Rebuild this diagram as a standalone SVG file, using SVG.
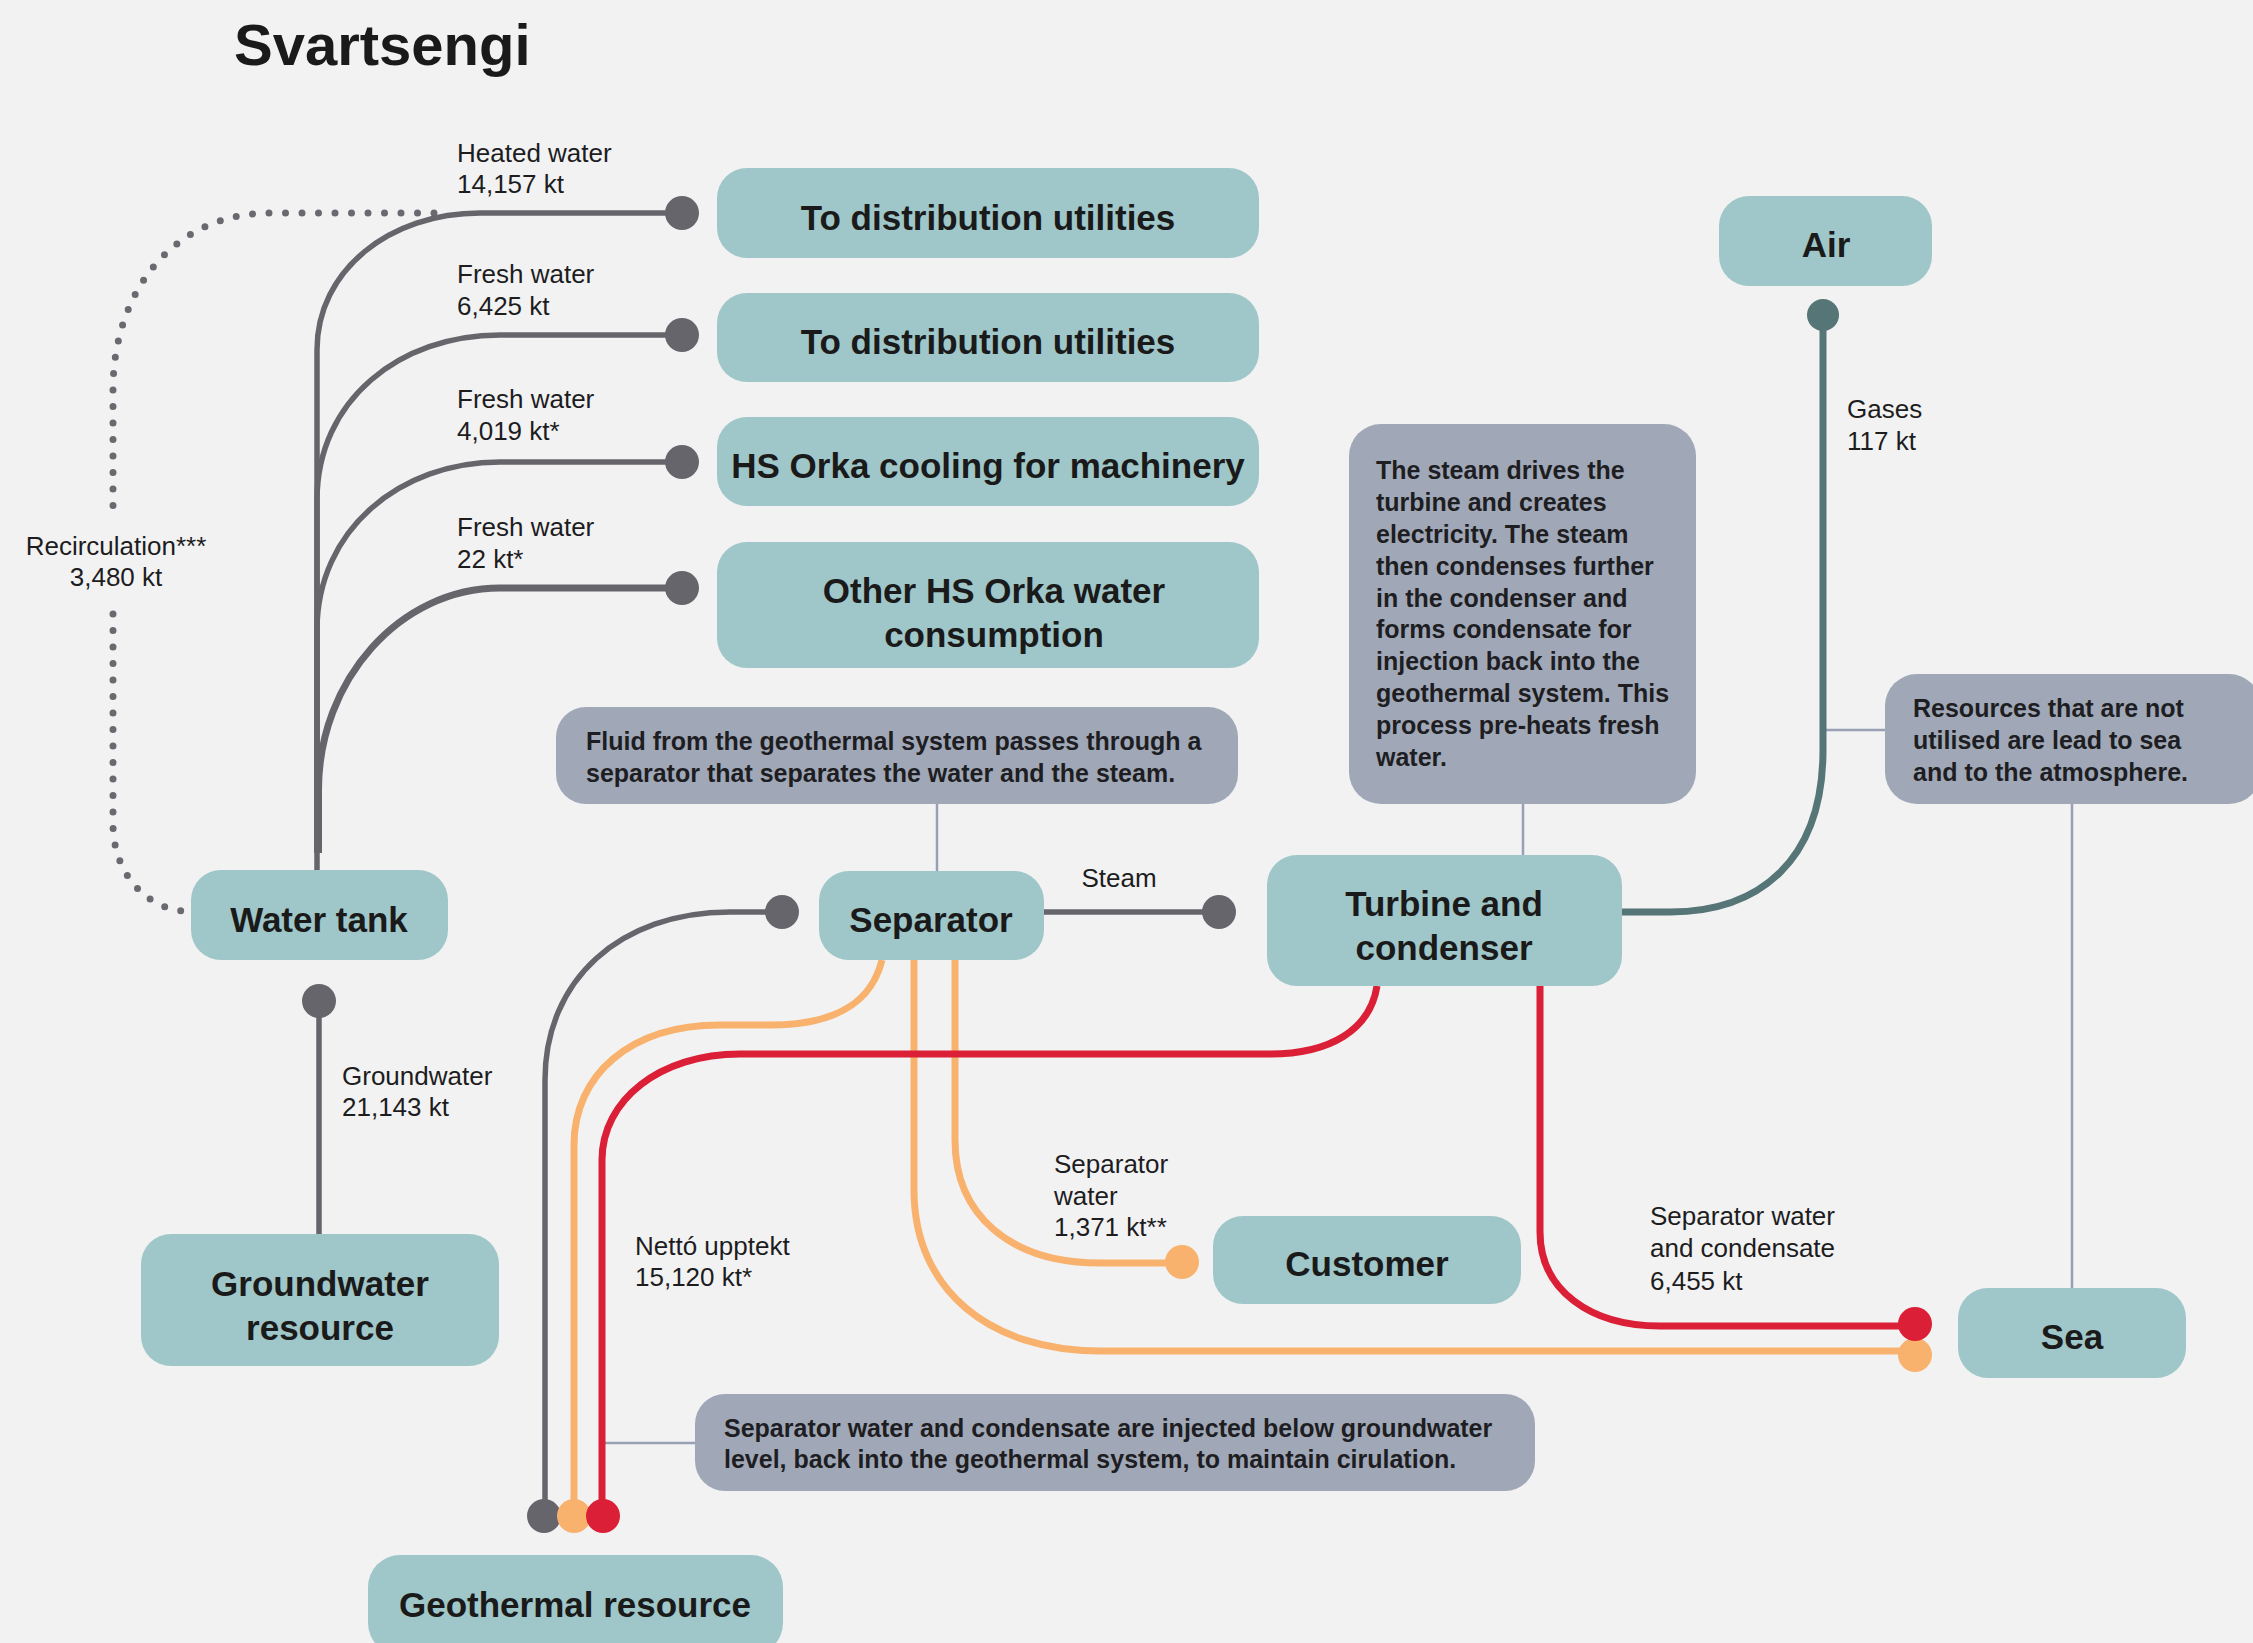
<svg xmlns="http://www.w3.org/2000/svg" width="2253" height="1643" viewBox="0 0 2253 1643">
  <style>
    .node rect { fill: #9FC6C8; }
    .note rect { fill: #A0A8B8; }
    .ntext { font-family: "Liberation Sans", Arial, sans-serif; font-weight: bold; font-size: 35px; fill: #1a1a1a; text-anchor: middle; }
    .notetext { font-family: "Liberation Sans", Arial, sans-serif; font-weight: bold; font-size: 25px; fill: #1e1e22; }
    .lbl { font-family: "Liberation Sans", Arial, sans-serif; font-size: 26px; fill: #1d1d1f; }
    .mid { text-anchor: middle; }
    .flow { fill: none; stroke-linecap: butt; stroke-linejoin: round; }
    .grey { stroke: #67656C; stroke-width: 5.5; }
    .orange { stroke: #F8B26E; stroke-width: 7; }
    .red { stroke: #DA1F36; stroke-width: 7; }
    .gas { stroke: #557577; stroke-width: 7; }
    .dotted { fill: none; stroke: #6B6970; stroke-width: 7; stroke-linecap: round; stroke-dasharray: 0 16.5; }
    .thin { fill: none; stroke: #98A1B4; stroke-width: 2.5; }
    .dg { fill: #67656C; }
    .do { fill: #F8B26E; }
    .dr { fill: #DA1F36; }
    .dt { fill: #557577; }
  </style>

  <rect x="0" y="0" width="2253" height="1643" fill="#F2F2F2"/>

  <text x="234" y="65" font-family="Liberation Sans, Arial, sans-serif" font-weight="bold" font-size="58" fill="#1a1a1a">Svartsengi</text>

  <!-- connectors -->
  <g id="connectors">
    <!-- note leader lines -->
    <path class="thin" d="M937 804 V871"/>
    <path class="thin" d="M1523 804 V855"/>
    <path class="thin" d="M1886 730 H1826"/>
    <path class="thin" d="M2072 804 V1288"/>
    <path class="thin" d="M695 1443 H602"/>

    <!-- recirculation -->
    <path class="dotted" d="M434 213 H270 C175 213 113 290 113 390 V513"/>
    <path class="dotted" d="M113 614 V824 C113 872 145 908 184 911"/>

    <!-- water tank outputs -->
    <path class="flow grey" d="M682 213 H480 C390 213 317 270 317 350 V870"/>
    <path class="flow grey" d="M682 335 H500 C400 335 317 400 317 500 V853"/>
    <path class="flow grey" d="M682 462 H500 C400 462 317 530 317 630 V853"/>
    <path class="flow grey" style="stroke-width:7" d="M682 588 H500 C400 588 318.5 680 318.5 790 V853"/>

    <!-- groundwater -->
    <path class="flow grey" d="M319 1001 V1234"/>

    <!-- steam -->
    <path class="flow grey" d="M1044 912 H1219"/>

    <!-- net extraction from geothermal resource -->
    <path class="flow grey" d="M782 912 H730 C620 912 545 980 545 1080 V1516"/>

    <!-- separator water -->
    <path class="flow orange" d="M882 960 C872 1000 840 1025 770 1025 H720 C630 1025 574 1075 574 1145 V1516"/>
    <path class="flow orange" d="M914 960 V1190 C914 1290 990 1351 1100 1351 H1915"/>
    <path class="flow orange" d="M955 960 V1140 C955 1215 1010 1263 1100 1263 H1182"/>

    <!-- condensate -->
    <path class="flow red" d="M1377 986 C1370 1030 1330 1054 1270 1054 H740 C660 1054 602 1100 602 1160 V1516"/>
    <path class="flow red" d="M1540 986 V1232 C1540 1290 1590 1326 1660 1326 H1915"/>

    <!-- gases -->
    <path class="flow gas" d="M1823 315 V750 C1823 860 1760 912 1670 912 H1622"/>

    <!-- end dots -->
    <circle class="dg" cx="682" cy="213" r="17"/>
    <circle class="dg" cx="682" cy="335" r="17"/>
    <circle class="dg" cx="682" cy="462" r="17"/>
    <circle class="dg" cx="682" cy="588" r="17"/>
    <circle class="dg" cx="319" cy="1001" r="17"/>
    <circle class="dg" cx="1219" cy="912" r="17"/>
    <circle class="dg" cx="782" cy="912" r="17"/>
    <circle class="dg" cx="544" cy="1516" r="17"/>
    <circle class="do" cx="574" cy="1516" r="17"/>
    <circle class="dr" cx="603" cy="1516" r="17"/>
    <circle class="do" cx="1182" cy="1262" r="17"/>
    <circle class="do" cx="1915" cy="1355" r="17"/>
    <circle class="dr" cx="1915" cy="1324" r="17"/>
    <circle class="dt" cx="1823" cy="315" r="16"/>

    <!-- flow labels -->
    <text class="lbl" x="457" y="162">Heated water</text>
    <text class="lbl" x="457" y="193">14,157 kt</text>
    <text class="lbl" x="457" y="283">Fresh water</text>
    <text class="lbl" x="457" y="315">6,425 kt</text>
    <text class="lbl" x="457" y="408">Fresh water</text>
    <text class="lbl" x="457" y="440">4,019 kt*</text>
    <text class="lbl" x="457" y="536">Fresh water</text>
    <text class="lbl" x="457" y="568">22 kt*</text>
    <text class="lbl mid" x="116" y="555">Recirculation***</text>
    <text class="lbl mid" x="116" y="586">3,480 kt</text>
    <text class="lbl" x="342" y="1085">Groundwater</text>
    <text class="lbl" x="342" y="1116">21,143 kt</text>
    <text class="lbl mid" x="1119" y="887">Steam</text>
    <text class="lbl" x="1847" y="418">Gases</text>
    <text class="lbl" x="1847" y="450">117 kt</text>
    <text class="lbl" x="1054" y="1173">Separator</text>
    <text class="lbl" x="1054" y="1205">water</text>
    <text class="lbl" x="1054" y="1236">1,371 kt**</text>
    <text class="lbl" x="635" y="1255">Nettó upptekt</text>
    <text class="lbl" x="635" y="1286">15,120 kt*</text>
    <text class="lbl" x="1650" y="1225">Separator water</text>
    <text class="lbl" x="1650" y="1257">and condensate</text>
    <text class="lbl" x="1650" y="1290">6,455 kt</text>
  </g>

  <!-- nodes -->
  <g id="n-dist-heated" class="node">
    <rect x="717" y="168" width="542" height="90" rx="30"/>
    <text class="ntext" x="988" y="230">To distribution utilities</text>
  </g>
  <g id="n-dist-fresh" class="node">
    <rect x="717" y="293" width="542" height="89" rx="30"/>
    <text class="ntext" x="988" y="354">To distribution utilities</text>
  </g>
  <g id="n-cooling" class="node">
    <rect x="717" y="417" width="542" height="89" rx="30"/>
    <text class="ntext" x="988" y="478">HS Orka cooling for machinery</text>
  </g>
  <g id="n-other" class="node">
    <rect x="717" y="542" width="542" height="126" rx="30"/>
    <text class="ntext" x="994" y="603">Other HS Orka water</text>
    <text class="ntext" x="994" y="647">consumption</text>
  </g>
  <g id="n-air" class="node">
    <rect x="1719" y="196" width="213" height="90" rx="30"/>
    <text class="ntext" x="1826" y="257">Air</text>
  </g>
  <g id="n-watertank" class="node">
    <rect x="191" y="870" width="257" height="90" rx="30"/>
    <text class="ntext" x="319" y="932">Water tank</text>
  </g>
  <g id="n-groundwater" class="node">
    <rect x="141" y="1234" width="358" height="132" rx="30"/>
    <text class="ntext" x="320" y="1296">Groundwater</text>
    <text class="ntext" x="320" y="1340">resource</text>
  </g>
  <g id="n-separator" class="node">
    <rect x="819" y="871" width="225" height="89" rx="30"/>
    <text class="ntext" x="931" y="932">Separator</text>
  </g>
  <g id="n-turbine" class="node">
    <rect x="1267" y="855" width="355" height="131" rx="30"/>
    <text class="ntext" x="1444" y="916">Turbine and</text>
    <text class="ntext" x="1444" y="960">condenser</text>
  </g>
  <g id="n-customer" class="node">
    <rect x="1213" y="1216" width="308" height="88" rx="30"/>
    <text class="ntext" x="1367" y="1276">Customer</text>
  </g>
  <g id="n-sea" class="node">
    <rect x="1958" y="1288" width="228" height="90" rx="30"/>
    <text class="ntext" x="2072" y="1349">Sea</text>
  </g>
  <g id="n-geothermal" class="node">
    <rect x="368" y="1555" width="415" height="100" rx="32"/>
    <text class="ntext" x="575" y="1617">Geothermal resource</text>
  </g>

  <!-- explanatory notes -->
  <g id="note-fluid" class="note">
    <rect x="556" y="707" width="682" height="97" rx="30"/>
    <text class="notetext" x="586" y="750">Fluid from the geothermal system passes through a</text>
    <text class="notetext" x="586" y="782">separator that separates the water and the steam.</text>
  </g>
  <g id="note-steam" class="note">
    <rect x="1349" y="424" width="347" height="380" rx="32"/>
    <text class="notetext" x="1376" y="479">The steam drives the</text>
    <text class="notetext" x="1376" y="511">turbine and creates</text>
    <text class="notetext" x="1376" y="543">electricity. The steam</text>
    <text class="notetext" x="1376" y="575">then condenses further</text>
    <text class="notetext" x="1376" y="607">in the condenser and</text>
    <text class="notetext" x="1376" y="638">forms condensate for</text>
    <text class="notetext" x="1376" y="670">injection back into the</text>
    <text class="notetext" x="1376" y="702">geothermal system. This</text>
    <text class="notetext" x="1376" y="734">process pre-heats fresh</text>
    <text class="notetext" x="1376" y="766">water.</text>
  </g>
  <g id="note-resources" class="note">
    <rect x="1885" y="674" width="376" height="130" rx="32"/>
    <text class="notetext" x="1913" y="717">Resources that are not</text>
    <text class="notetext" x="1913" y="749">utilised are lead to sea</text>
    <text class="notetext" x="1913" y="781">and to the atmosphere.</text>
  </g>
  <g id="note-injection" class="note">
    <rect x="695" y="1394" width="840" height="97" rx="30"/>
    <text class="notetext" x="724" y="1437">Separator water and condensate are injected below groundwater</text>
    <text class="notetext" x="724" y="1468">level, back into the geothermal system, to maintain cirulation.</text>
  </g>
</svg>
